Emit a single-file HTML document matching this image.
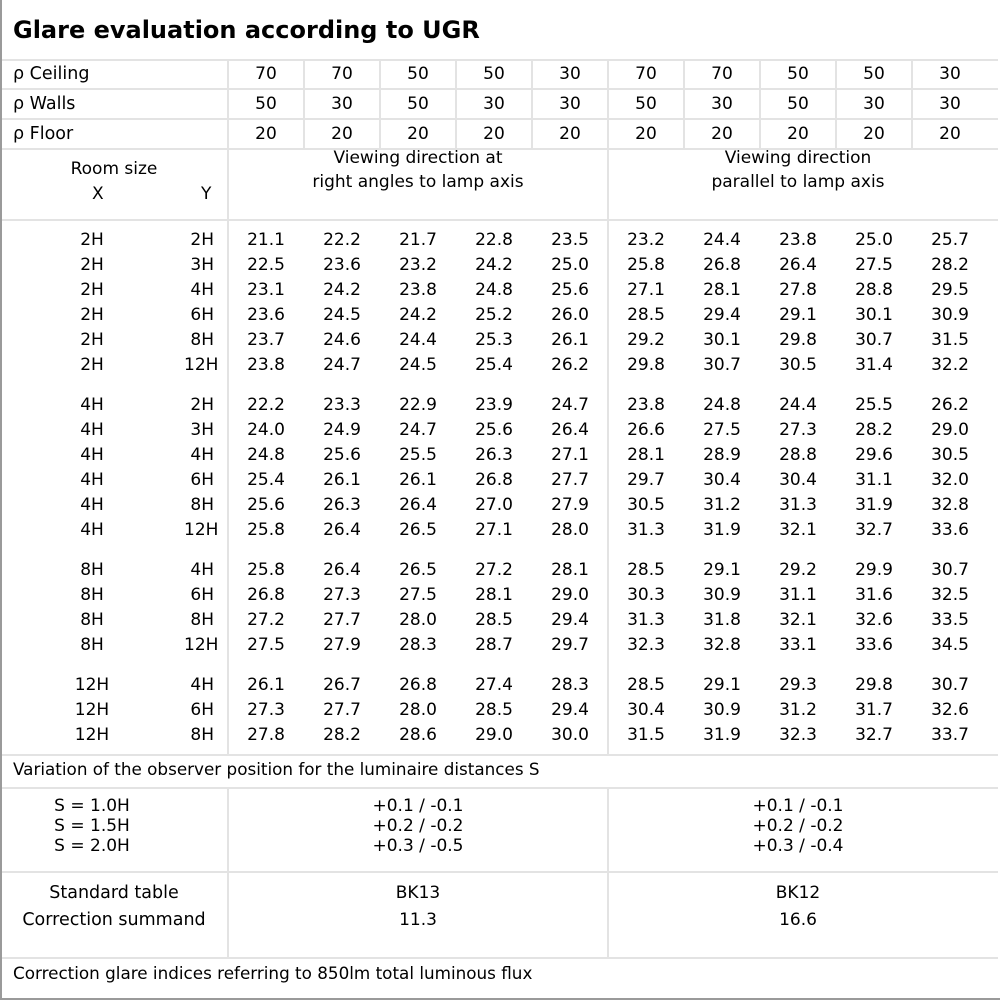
<!DOCTYPE html>
<html><head><meta charset="utf-8"><style>
body{margin:0;width:1000px;height:1000px;background:#fff;position:relative;overflow:hidden;font-family:"DejaVu Sans","Liberation Sans",sans-serif;color:#000}
.h{position:absolute;left:2px;width:996px;height:2px;background:#e3e3e3}
.v{position:absolute;width:2px;background:#e3e3e3}
.r{position:absolute;left:0;height:25px;line-height:25px;font-size:17px;white-space:nowrap;display:flex}
.r span{display:inline-block;text-align:center;width:76px}
.r .x{width:184px}
.r .y{width:30px;text-align:right;margin-right:14px}
.t{position:absolute;font-size:17px;white-space:nowrap;line-height:24px}
.c{text-align:center}
</style></head><body>
<div style="position:absolute;left:0;top:0;width:998px;height:998px;border:1px solid #9a9a9a;border-width:0 2px 2px 2px"></div>
<div class="t" style="left:13px;top:14px;font-size:24px;font-weight:bold;line-height:32px">Glare evaluation according to UGR</div>
<div class="h" style="top:59px"></div><div class="h" style="top:88px"></div><div class="h" style="top:118px"></div><div class="h" style="top:148px"></div><div class="h" style="top:219px"></div><div class="h" style="top:754px"></div><div class="h" style="top:787px"></div><div class="h" style="top:871px"></div><div class="h" style="top:957px"></div>
<div class="v" style="left:227px;top:60px;height:695px"></div><div class="v" style="left:607px;top:60px;height:695px"></div>
<div class="v" style="left:227px;top:788px;height:170px"></div><div class="v" style="left:607px;top:788px;height:170px"></div>
<div class="v" style="left:303px;top:60px;height:89px"></div><div class="v" style="left:379px;top:60px;height:89px"></div><div class="v" style="left:455px;top:60px;height:89px"></div><div class="v" style="left:531px;top:60px;height:89px"></div><div class="v" style="left:683px;top:60px;height:89px"></div><div class="v" style="left:759px;top:60px;height:89px"></div><div class="v" style="left:835px;top:60px;height:89px"></div><div class="v" style="left:911px;top:60px;height:89px"></div>
<div class="t" style="left:13px;top:62px;font-size:17.5px">ρ Ceiling</div>
<div class="t" style="left:13px;top:92px;font-size:17.5px">ρ Walls</div>
<div class="t" style="left:13px;top:122px;font-size:17.5px">ρ Floor</div>
<div class="r" style="top:62px;left:228px"><span>70</span><span>70</span><span>50</span><span>50</span><span>30</span><span>70</span><span>70</span><span>50</span><span>50</span><span>30</span></div>
<div class="r" style="top:92px;left:228px"><span>50</span><span>30</span><span>50</span><span>30</span><span>30</span><span>50</span><span>30</span><span>50</span><span>30</span><span>30</span></div>
<div class="r" style="top:122px;left:228px"><span>20</span><span>20</span><span>20</span><span>20</span><span>20</span><span>20</span><span>20</span><span>20</span><span>20</span><span>20</span></div>
<div class="t c" style="left:0;width:228px;top:157px">Room size</div>
<div class="t" style="left:92px;top:182px">X</div><div class="t" style="left:201px;top:182px">Y</div>
<div class="t c" style="left:228px;width:380px;top:146px">Viewing direction at<br>right angles to lamp axis</div>
<div class="t c" style="left:608px;width:380px;top:146px">Viewing direction<br>parallel to lamp axis</div>
<div class="r" style="top:228px"><span class="x">2H</span><span class="y">2H</span><span>21.1</span><span>22.2</span><span>21.7</span><span>22.8</span><span>23.5</span><span>23.2</span><span>24.4</span><span>23.8</span><span>25.0</span><span>25.7</span></div>
<div class="r" style="top:253px"><span class="x">2H</span><span class="y">3H</span><span>22.5</span><span>23.6</span><span>23.2</span><span>24.2</span><span>25.0</span><span>25.8</span><span>26.8</span><span>26.4</span><span>27.5</span><span>28.2</span></div>
<div class="r" style="top:278px"><span class="x">2H</span><span class="y">4H</span><span>23.1</span><span>24.2</span><span>23.8</span><span>24.8</span><span>25.6</span><span>27.1</span><span>28.1</span><span>27.8</span><span>28.8</span><span>29.5</span></div>
<div class="r" style="top:303px"><span class="x">2H</span><span class="y">6H</span><span>23.6</span><span>24.5</span><span>24.2</span><span>25.2</span><span>26.0</span><span>28.5</span><span>29.4</span><span>29.1</span><span>30.1</span><span>30.9</span></div>
<div class="r" style="top:328px"><span class="x">2H</span><span class="y">8H</span><span>23.7</span><span>24.6</span><span>24.4</span><span>25.3</span><span>26.1</span><span>29.2</span><span>30.1</span><span>29.8</span><span>30.7</span><span>31.5</span></div>
<div class="r" style="top:353px"><span class="x">2H</span><span class="y">12H</span><span>23.8</span><span>24.7</span><span>24.5</span><span>25.4</span><span>26.2</span><span>29.8</span><span>30.7</span><span>30.5</span><span>31.4</span><span>32.2</span></div>
<div class="r" style="top:393px"><span class="x">4H</span><span class="y">2H</span><span>22.2</span><span>23.3</span><span>22.9</span><span>23.9</span><span>24.7</span><span>23.8</span><span>24.8</span><span>24.4</span><span>25.5</span><span>26.2</span></div>
<div class="r" style="top:418px"><span class="x">4H</span><span class="y">3H</span><span>24.0</span><span>24.9</span><span>24.7</span><span>25.6</span><span>26.4</span><span>26.6</span><span>27.5</span><span>27.3</span><span>28.2</span><span>29.0</span></div>
<div class="r" style="top:443px"><span class="x">4H</span><span class="y">4H</span><span>24.8</span><span>25.6</span><span>25.5</span><span>26.3</span><span>27.1</span><span>28.1</span><span>28.9</span><span>28.8</span><span>29.6</span><span>30.5</span></div>
<div class="r" style="top:468px"><span class="x">4H</span><span class="y">6H</span><span>25.4</span><span>26.1</span><span>26.1</span><span>26.8</span><span>27.7</span><span>29.7</span><span>30.4</span><span>30.4</span><span>31.1</span><span>32.0</span></div>
<div class="r" style="top:493px"><span class="x">4H</span><span class="y">8H</span><span>25.6</span><span>26.3</span><span>26.4</span><span>27.0</span><span>27.9</span><span>30.5</span><span>31.2</span><span>31.3</span><span>31.9</span><span>32.8</span></div>
<div class="r" style="top:518px"><span class="x">4H</span><span class="y">12H</span><span>25.8</span><span>26.4</span><span>26.5</span><span>27.1</span><span>28.0</span><span>31.3</span><span>31.9</span><span>32.1</span><span>32.7</span><span>33.6</span></div>
<div class="r" style="top:558px"><span class="x">8H</span><span class="y">4H</span><span>25.8</span><span>26.4</span><span>26.5</span><span>27.2</span><span>28.1</span><span>28.5</span><span>29.1</span><span>29.2</span><span>29.9</span><span>30.7</span></div>
<div class="r" style="top:583px"><span class="x">8H</span><span class="y">6H</span><span>26.8</span><span>27.3</span><span>27.5</span><span>28.1</span><span>29.0</span><span>30.3</span><span>30.9</span><span>31.1</span><span>31.6</span><span>32.5</span></div>
<div class="r" style="top:608px"><span class="x">8H</span><span class="y">8H</span><span>27.2</span><span>27.7</span><span>28.0</span><span>28.5</span><span>29.4</span><span>31.3</span><span>31.8</span><span>32.1</span><span>32.6</span><span>33.5</span></div>
<div class="r" style="top:633px"><span class="x">8H</span><span class="y">12H</span><span>27.5</span><span>27.9</span><span>28.3</span><span>28.7</span><span>29.7</span><span>32.3</span><span>32.8</span><span>33.1</span><span>33.6</span><span>34.5</span></div>
<div class="r" style="top:673px"><span class="x">12H</span><span class="y">4H</span><span>26.1</span><span>26.7</span><span>26.8</span><span>27.4</span><span>28.3</span><span>28.5</span><span>29.1</span><span>29.3</span><span>29.8</span><span>30.7</span></div>
<div class="r" style="top:698px"><span class="x">12H</span><span class="y">6H</span><span>27.3</span><span>27.7</span><span>28.0</span><span>28.5</span><span>29.4</span><span>30.4</span><span>30.9</span><span>31.2</span><span>31.7</span><span>32.6</span></div>
<div class="r" style="top:723px"><span class="x">12H</span><span class="y">8H</span><span>27.8</span><span>28.2</span><span>28.6</span><span>29.0</span><span>30.0</span><span>31.5</span><span>31.9</span><span>32.3</span><span>32.7</span><span>33.7</span></div>
<div class="t" style="left:13px;top:757px;font-size:16.8px">Variation of the observer position for the luminaire distances S</div>
<div class="t c" style="left:0;width:184px;top:796px;line-height:20px">S = 1.0H<br>S = 1.5H<br>S = 2.0H</div>
<div class="t c" style="left:228px;width:380px;top:796px;line-height:20px">+0.1 / -0.1<br>+0.2 / -0.2<br>+0.3 / -0.5</div>
<div class="t c" style="left:608px;width:380px;top:796px;line-height:20px">+0.1 / -0.1<br>+0.2 / -0.2<br>+0.3 / -0.4</div>
<div class="t c" style="left:0;width:228px;top:880px;line-height:27px;font-size:17.5px">Standard table<br>Correction summand</div>
<div class="t c" style="left:228px;width:380px;top:880px;line-height:27px">BK13<br>11.3</div>
<div class="t c" style="left:608px;width:380px;top:880px;line-height:27px">BK12<br>16.6</div>
<div class="t" style="left:13px;top:961px;font-size:16.8px">Correction glare indices referring to 850lm total luminous flux</div>
</body></html>
